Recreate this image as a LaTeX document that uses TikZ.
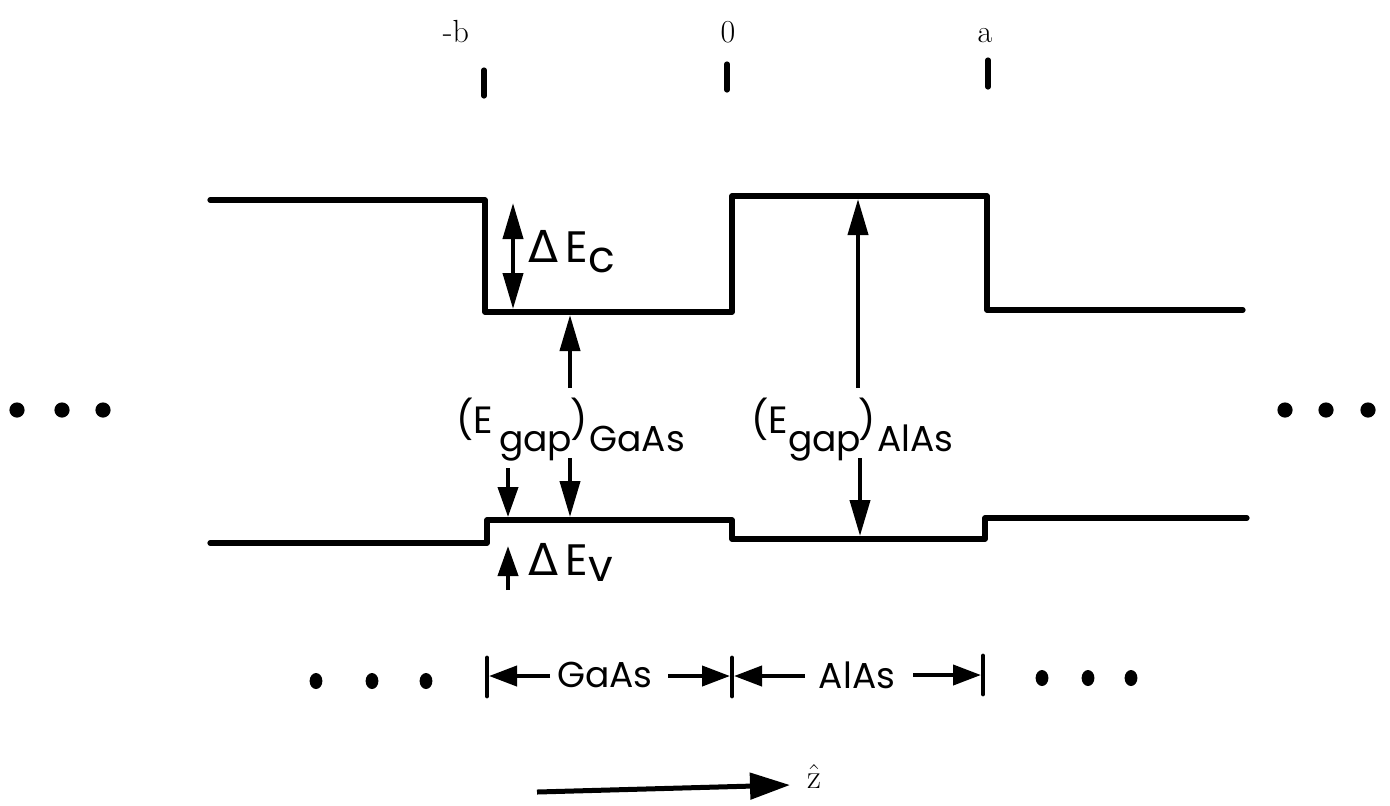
\documentclass[tikz,border=0pt]{standalone}
\usepackage{fontspec}
\newfontfamily\lett{Poppins}
\newfontfamily\dvs{DejaVu Sans}
\usetikzlibrary{arrows.meta}
\newcommand\lowered[1]{\raisebox{-9pt}{#1}}
\begin{document}
\begin{tikzpicture}[x=0.5pt,y=-0.5pt,
  band/.style={line width=2.6pt,line join=round,line cap=round},
  tickmark/.style={line width=2.6pt,line cap=round},
  gaparrow/.style={line width=2pt,-{Triangle[length=18pt,width=10pt]}},
  gapboth/.style={line width=2pt,{Triangle[length=18pt,width=10pt]}-{Triangle[length=18pt,width=10pt]}},
  smallarrow/.style={line width=2pt,-{Triangle[length=15pt,width=10pt]}},
  dimarrow/.style={line width=2pt,-{Triangle[length=14pt,width=10pt]}},
  bar/.style={line width=2.4pt,line cap=round},
  toplab/.style={inner sep=0pt,anchor=base,font=\fontsize{16}{18}\selectfont},
  biglab/.style={inner sep=0pt,anchor=base west,font=\lett\fontsize{22}{24}\selectfont},
  lab/.style={inner sep=0pt,anchor=base west,font=\lett\fontsize{19}{22}\selectfont},
  dimlab/.style={inner sep=0pt,font=\lett\fontsize{18}{22}\selectfont},
  dot/.style={fill=black,draw=none},
]
\useasboundingbox (0,0) rectangle (1390,805);

% tick marks and position labels
\node[toplab] (lb) at (456,42) {-b};
\node[toplab] (l0) at (728,42) {0};
\node[toplab] (la) at (985,42) {a};
\coordinate (tb1) at (484,70); \coordinate (tb2) at (484,96);
\coordinate (t01) at (727,64); \coordinate (t02) at (727,90);
\coordinate (ta1) at (988,60); \coordinate (ta2) at (988,87);
\draw[tickmark] (tb1) -- (tb2);
\draw[tickmark] (t01) -- (t02);
\draw[tickmark] (ta1) -- (ta2);

% conduction band
\draw[band] (210,200) -- (485,200) -- (485,312) -- (732,312) -- (732,196)
  -- (987,196) -- (987,310) -- (1243,310);
% valence band
\draw[band] (210,543) -- (487,543) -- (487,520) -- (732,520) -- (732,539)
  -- (985,539) -- (985,518) -- (1247,518);

% Delta E_c
\coordinate (c1) at (513,203);
\coordinate (c2) at (513,309);
\draw[gapboth] (c1) -- (c2);
\node[biglab] (dec) at (528,262) {{\dvs Δ}\,E\raisebox{-5pt}{c}};

% GaAs gap
\node[lab] (g1lab) at (456,433)
  {(E\hspace{3pt}\lowered{\fontsize{18}{22}\selectfont gap}\hspace{-1pt})\hspace{1pt}\lowered{\fontsize{18}{22}\selectfont GaAs}};
\coordinate (g1) at (570,388); \coordinate (g2) at (570,315);
\coordinate (g3) at (570,458); \coordinate (g4) at (570,517);
\draw[gaparrow] (g1) -- (g2);
\draw[gaparrow] (g3) -- (g4);

% Delta E_v
\coordinate (v1) at (508,468); \coordinate (v2) at (508,517);
\coordinate (v3) at (508,590); \coordinate (v4) at (508,546);
\draw[smallarrow] (v1) -- (v2);
\draw[smallarrow] (v3) -- (v4);
\node[biglab] (dev) at (528,575) {{\dvs Δ}\,E\raisebox{-3pt}{v}};

% AlAs gap
\node[lab] (g2lab) at (751,433)
  {(E\hspace{0pt}\lowered{\fontsize{18}{22}\selectfont gap}\hspace{-1.5pt})\hspace{1pt}\lowered{\fontsize{18}{22}\selectfont AlAs}};
\coordinate (a1) at (858,388); \coordinate (a2) at (858,199);
\coordinate (a3) at (860,458); \coordinate (a4) at (860,536);
\draw[gaparrow] (a1) -- (a2);
\draw[gaparrow] (a3) -- (a4);

% side dots
\foreach \x in {17,62,103,1285,1326,1368}
  \fill[dot] (\x,410) circle[radius=3.8pt];

% bottom layer dimensions
\foreach \x in {316,372,426}
  \fill[dot] (\x,681) ellipse[x radius=3.2pt,y radius=4pt];
\foreach \x in {1042,1088,1131}
  \fill[dot] (\x,678) ellipse[x radius=3.2pt,y radius=4pt];
\coordinate (b1t) at (487,658); \coordinate (b1b) at (487,696);
\coordinate (b2t) at (732,658); \coordinate (b2b) at (732,696);
\coordinate (b3t) at (983,656); \coordinate (b3b) at (983,694);
\draw[bar] (b1t) -- (b1b);
\draw[bar] (b2t) -- (b2b);
\draw[bar] (b3t) -- (b3b);
\node[dimlab] (gaas) at (605,675) {GaAs};
\node[dimlab] (alas) at (857,675) {AlAs};
\coordinate (e1) at (550,676); \coordinate (f1) at (489,676);
\coordinate (e2) at (668,676); \coordinate (f2) at (730,676);
\coordinate (e3) at (805,676); \coordinate (f3) at (734,676);
\coordinate (e4) at (913,675); \coordinate (f4) at (981,675);
\draw[dimarrow] (e1) -- (f1);
\draw[dimarrow] (e2) -- (f2);
\draw[dimarrow] (e3) -- (f3);
\draw[dimarrow] (e4) -- (f4);

% z direction
\coordinate (z1) at (537,792);
\coordinate (z2) at (790,785);
\draw[line width=2.5pt,-{Triangle[length=20pt,width=13pt]}] (z1) -- (z2);
\node[inner sep=0pt,anchor=base,font=\fontsize{17}{19}\selectfont] (zh) at (814,788) {$\hat{\mathrm{z}}$};
\end{tikzpicture}
\end{document}
